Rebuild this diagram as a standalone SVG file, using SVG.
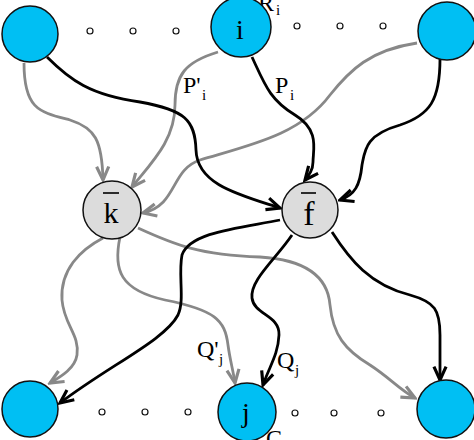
<svg xmlns="http://www.w3.org/2000/svg" width="474" height="440" viewBox="0 0 474 440">
<style>
.t{fill:#00bff3;stroke:#111;stroke-width:1.5}
.g{fill:#dcdcdc;stroke:#111;stroke-width:1.5}
.dot{fill:#fff;stroke:#111;stroke-width:1.2}
.eb{fill:none;stroke:#000;stroke-width:2.8}
.eg{fill:none;stroke:#888;stroke-width:2.8}
text{font-family:"Liberation Serif","Times New Roman",serif;fill:#000}
.lab{font-size:24px}
.sub{font-size:15px}
.bar{stroke:#000;stroke-width:1.6}
</style>
<defs>
<marker id="ab" markerUnits="userSpaceOnUse" markerWidth="17" markerHeight="17" refX="12" refY="6" orient="auto" viewBox="0 0 14 12">
<path d="M1,1 L12,6 L1,11" fill="none" stroke="#000" stroke-width="2.6" stroke-linejoin="miter"/>
</marker>
<marker id="ag" markerUnits="userSpaceOnUse" markerWidth="17" markerHeight="17" refX="12" refY="6" orient="auto" viewBox="0 0 14 12">
<path d="M1,1 L12,6 L1,11" fill="none" stroke="#888" stroke-width="2.6" stroke-linejoin="miter"/>
</marker>
</defs>
<g id="labels-back">
<text x="258" y="11" font-size="24">R</text>
<text x="276" y="15" class="sub">i</text>
<text x="266" y="446" font-size="24">C</text>
</g>
<g id="connectors">
<path class="eg" marker-end="url(#ag)" d="M24,63 C24,110 40,112 70,120 C95,128 102,140 103,180"/>
<path class="eg" marker-end="url(#ag)" d="M218,52 C185,62 175,75 175,105 C175,140 152,162 132,187"/>
<path class="eg" marker-end="url(#ag)" d="M417,43 C370,50 350,70 330,95 C300,135 250,145 200,160 C170,170 178,205 143,213"/>
<path class="eb" marker-end="url(#ab)" d="M47,57 C70,80 90,95 140,102 C185,110 195,120 196,150 C197,185 240,195 280,208"/>
<path class="eb" marker-end="url(#ab)" d="M252,57 C265,85 270,100 295,115 C320,130 313,150 313,162 C313,170 309,175 305,180"/>
<path class="eb" marker-end="url(#ab)" d="M440,59 C440,100 430,115 400,125 C365,135 365,150 362,165 C360,185 355,195 340,200"/>
<path class="eg" marker-end="url(#ag)" d="M103,238 C80,250 60,270 62,300 C64,325 80,335 77,355 C75,368 62,376 50,383"/>
<path class="eg" marker-end="url(#ag)" d="M120,237 C113,270 120,290 165,300 C215,310 225,320 228,345 C230,360 233,370 235,383"/>
<path class="eg" marker-end="url(#ag)" d="M138,228 C175,245 200,255 260,257 C310,260 328,280 330,305 C333,335 345,350 370,365 C390,378 400,390 415,398"/>
<path class="eb" marker-end="url(#ab)" d="M280,220 C240,228 190,232 182,255 C178,275 185,300 178,315 C165,340 110,365 60,403"/>
<path class="eb" marker-end="url(#ab)" d="M292,235 C275,260 250,280 252,298 C254,315 280,315 279,335 C278,355 270,365 263,385"/>
<path class="eb" marker-end="url(#ab)" d="M332,232 C350,260 370,285 410,295 C435,302 440,310 440,335 L440,380"/>
</g>
<g id="edge-labels">
<text x="183" y="93" class="lab">P'</text><text x="202" y="100" class="sub">i</text>
<text x="275" y="93" class="lab">P</text><text x="290" y="100" class="sub">i</text>
<text x="197" y="357" class="lab">Q'</text><text x="219" y="364" class="sub">j</text>
<text x="277" y="368" class="lab">Q</text><text x="295" y="375" class="sub">j</text>
</g>
<g id="dots">
<circle class="dot" cx="90" cy="31" r="3"/><circle class="dot" cx="133" cy="31" r="3"/><circle class="dot" cx="176" cy="31" r="3"/>
<circle class="dot" cx="297" cy="26" r="3"/><circle class="dot" cx="340" cy="26" r="3"/><circle class="dot" cx="383" cy="26" r="3"/>
<circle class="dot" cx="102" cy="412" r="3"/><circle class="dot" cx="145" cy="412" r="3"/><circle class="dot" cx="188" cy="412" r="3"/>
<circle class="dot" cx="295" cy="413" r="3"/><circle class="dot" cx="334" cy="413" r="3"/><circle class="dot" cx="381" cy="413" r="3"/>
</g>
<g id="node-tl"><circle class="t" cx="30" cy="34" r="28"/></g>
<g id="node-i"><circle class="t" cx="241" cy="27" r="30"/><text x="240" y="39" font-size="28" text-anchor="middle">i</text></g>
<g id="node-tr"><circle class="t" cx="447" cy="31" r="29"/></g>
<g id="node-k"><circle class="g" cx="112" cy="210" r="29"/><line class="bar" x1="103" y1="193" x2="119" y2="193"/><text x="111" y="223" font-size="30" text-anchor="middle">k</text></g>
<g id="node-f"><circle class="g" cx="310" cy="210" r="28"/><line class="bar" x1="301" y1="193" x2="316" y2="193"/><text x="309" y="225" font-size="34" text-anchor="middle">f</text></g>
<g id="node-bl"><circle class="t" cx="30" cy="409" r="28"/></g>
<g id="node-j"><circle class="t" cx="247" cy="412" r="29"/><text x="246" y="422" font-size="28" text-anchor="middle">j</text></g>
<g id="node-br"><circle class="t" cx="446" cy="409" r="29"/></g>
</svg>
